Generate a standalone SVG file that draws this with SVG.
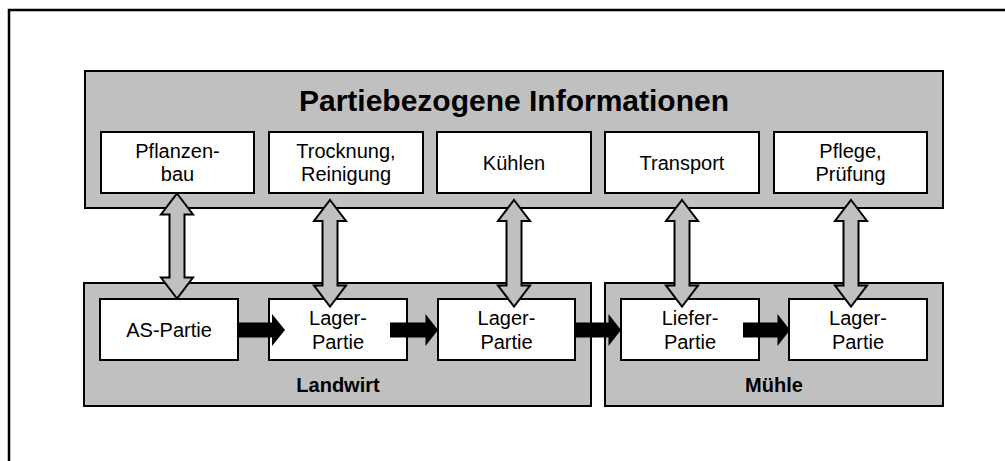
<svg xmlns="http://www.w3.org/2000/svg" width="1005" height="461" viewBox="0 0 1005 461">
  <style>
    .frame { fill: #ffffff; stroke: #000000; stroke-width: 2.5; }
    .group { fill: #c0c0c0; stroke: #000000; stroke-width: 2; }
    .box { fill: #ffffff; stroke: #000000; stroke-width: 2; }
    .link { fill: #c0c0c0; stroke: #000000; stroke-width: 2; stroke-linejoin: miter; }
    .flow { fill: #000000; stroke: none; }
    .title { font-family: "Liberation Sans", Arial, sans-serif; font-size: 30px; font-weight: bold; fill: #000000; text-anchor: middle; }
    .label { font-family: "Liberation Sans", Arial, sans-serif; font-size: 20px; fill: #000000; text-anchor: middle; }
    .caption { font-family: "Liberation Sans", Arial, sans-serif; font-size: 20px; font-weight: bold; fill: #000000; text-anchor: middle; }
  </style>

  <!-- page frame (only top and left edges fall inside the canvas) -->
  <rect class="frame" x="9" y="10" width="1010" height="470"/>

  <!-- information layer -->
  <g id="info">
    <rect class="group" x="85" y="71" width="858" height="137"/>
    <text class="title" x="514" y="111">Partiebezogene Informationen</text>
  </g>
  <g id="pflanzenbau">
    <rect class="box" x="101" y="132" width="153" height="61"/>
    <text class="label" x="177.5" y="158">Pflanzen-</text>
    <text class="label" x="177.5" y="181">bau</text>
  </g>
  <g id="trocknung">
    <rect class="box" x="269" y="132" width="154" height="61"/>
    <text class="label" x="346" y="158">Trocknung,</text>
    <text class="label" x="346" y="181">Reinigung</text>
  </g>
  <g id="kuehlen">
    <rect class="box" x="437" y="132" width="154" height="61"/>
    <text class="label" x="514" y="170">Kühlen</text>
  </g>
  <g id="transport">
    <rect class="box" x="605" y="132" width="154" height="61"/>
    <text class="label" x="682" y="170">Transport</text>
  </g>
  <g id="pflege">
    <rect class="box" x="774" y="132" width="153" height="61"/>
    <text class="label" x="850.5" y="158">Pflege,</text>
    <text class="label" x="850.5" y="181">Prüfung</text>
  </g>

  <!-- farm and mill -->
  <g id="landwirt">
    <rect class="group" x="84" y="283" width="507" height="123"/>
    <text class="caption" x="338" y="392">Landwirt</text>
  </g>
  <g id="muehle">
    <rect class="group" x="605" y="283" width="338" height="123"/>
    <text class="caption" x="774" y="392">Mühle</text>
  </g>
  <g id="as-partie">
    <rect class="box" x="100" y="299" width="138" height="61"/>
    <text class="label" x="169" y="337">AS-Partie</text>
  </g>
  <g id="lager-partie-1">
    <rect class="box" x="269" y="299" width="138" height="61"/>
    <text class="label" x="338" y="325">Lager-</text>
    <text class="label" x="338" y="349">Partie</text>
  </g>
  <g id="lager-partie-2">
    <rect class="box" x="438" y="299" width="137" height="61"/>
    <text class="label" x="506.5" y="325">Lager-</text>
    <text class="label" x="506.5" y="349">Partie</text>
  </g>
  <g id="liefer-partie">
    <rect class="box" x="621" y="299" width="138" height="61"/>
    <text class="label" x="690" y="325">Liefer-</text>
    <text class="label" x="690" y="349">Partie</text>
  </g>
  <g id="lager-partie-3">
    <rect class="box" x="789" y="299" width="138" height="61"/>
    <text class="label" x="858" y="325">Lager-</text>
    <text class="label" x="858" y="349">Partie</text>
  </g>

  <!-- connectors -->
  <g id="connectors">
    <!-- two-way information exchange -->
    <polygon class="link" points="177,193.5 193,214.5 184.5,214.5 184.5,277.5 193,277.5 177,298.5 161,277.5 169.5,277.5 169.5,214.5 161,214.5"/>
    <polygon class="link" points="330,200 346,221 337.5,221 337.5,285.5 346,285.5 330,306.5 314,285.5 322.5,285.5 322.5,221 314,221"/>
    <polygon class="link" points="514,200 530,221 521.5,221 521.5,285.5 530,285.5 514,306.5 498,285.5 506.5,285.5 506.5,221 498,221"/>
    <polygon class="link" points="682,200 698,221 689.5,221 689.5,285.5 698,285.5 682,306.5 666,285.5 674.5,285.5 674.5,221 666,221"/>
    <polygon class="link" points="851,200 867,221 858.5,221 858.5,285.5 867,285.5 851,306.5 835,285.5 843.5,285.5 843.5,221 835,221"/>
    <!-- lot flow -->
    <polygon class="flow" points="238,322.5 272,322.5 272,314 285,330 272,346 272,337.5 238,337.5"/>
    <polygon class="flow" points="390,322.5 425.5,322.5 425.5,314 438,330 425.5,346 425.5,337.5 390,337.5"/>
    <polygon class="flow" points="575,322.5 608.5,322.5 608.5,314 621,330 608.5,346 608.5,337.5 575,337.5"/>
    <polygon class="flow" points="743,322.5 777.5,322.5 777.5,314 790,330 777.5,346 777.5,337.5 743,337.5"/>
  </g>
</svg>
